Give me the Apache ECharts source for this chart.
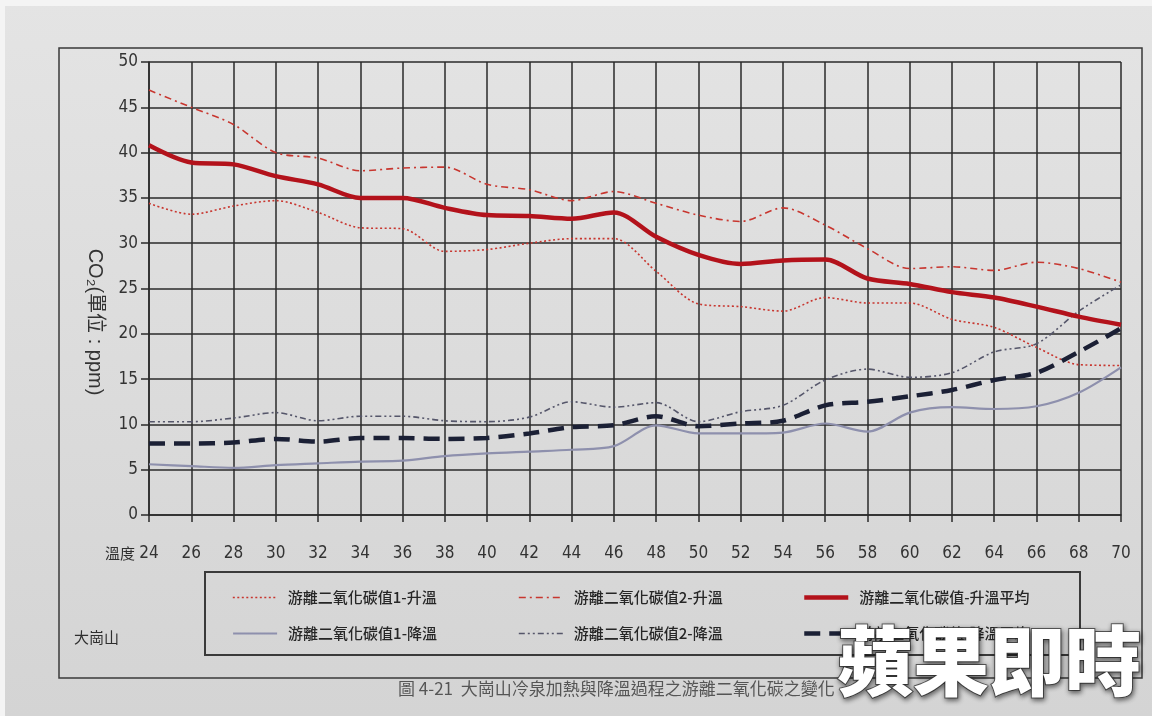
<!DOCTYPE html>
<html>
<head>
<meta charset="utf-8">
<script src="https://cdn.jsdelivr.net/npm/echarts@6/dist/echarts.min.js"></script>
<style>
html,body{margin:0;padding:0;background:#fff;}
#chart{width:1152px;height:716px;}
</style>
</head>
<body>
<div id="chart"></div>
<script>
const temps = [24,26,28,30,32,34,36,38,40,42,44,46,48,50,52,54,56,58,60,62,64,66,68,70];
const up1 = [34.4,33.2,34.1,34.7,33.4,31.7,31.6,29.1,29.3,30.0,30.5,30.5,26.9,23.3,23.0,22.5,24.0,23.4,23.4,21.6,20.7,18.5,16.6,16.5];
const up2 = [46.9,45.0,43.1,40.0,39.4,38.0,38.3,38.4,36.5,35.9,34.7,35.7,34.4,33.1,32.4,33.9,32.0,29.4,27.2,27.4,27.0,27.9,27.2,25.7];
const upAvg = [40.8,38.9,38.7,37.4,36.5,35.0,35.0,33.9,33.1,33.0,32.7,33.4,30.7,28.7,27.7,28.1,28.2,26.1,25.5,24.6,24.0,23.0,21.9,21.0];
const down1 = [5.6,5.4,5.2,5.5,5.7,5.9,6.0,6.5,6.8,7.0,7.2,7.6,9.9,9.0,9.0,9.1,10.1,9.2,11.3,11.9,11.7,12.0,13.5,16.3];
const down2 = [10.3,10.3,10.7,11.3,10.4,10.9,10.9,10.4,10.3,10.8,12.5,11.9,12.4,10.3,11.4,12.1,14.9,16.1,15.2,15.7,18.0,18.9,22.5,25.4];
const downAvg = [7.9,7.9,8.0,8.4,8.1,8.5,8.5,8.4,8.5,9.0,9.7,9.9,10.9,9.8,10.1,10.4,12.1,12.5,13.1,13.8,14.9,15.7,18.0,20.6];
const seriesNames = ['游離二氧化碳值1-升溫','游離二氧化碳值2-升溫','游離二氧化碳值-升溫平均','游離二氧化碳值1-降溫','游離二氧化碳值2-降溫','游離二氧化碳值-降溫平均'];
const yTicks = [0,5,10,15,20,25,30,35,40,45,50];

const pair = arr => temps.map((t,i)=>[t,arr[i]]);
const numFont = "'Liberation Sans Narrow','DejaVu Sans Condensed','Liberation Sans',sans-serif";
const cjkFont = "'Noto Sans CJK TC','Noto Sans CJK SC',sans-serif";

const styles = [
  {color:'#c8362f', width:1.6, type:[2,2.5]},
  {color:'#c8362f', width:1.6, type:[7,4,2,4]},
  {color:'#b3121b', width:4.5, type:'solid'},
  {color:'#8e90ad', width:2.2, type:'solid'},
  {color:'#55566a', width:1.6, type:[6,3,2,3,2,3]},
  {color:'#1b2035', width:4.5, type:[16,9]}
];
const datasets = [up1, up2, upAvg, down1, down2, downAvg];

const series = datasets.map((d,i)=>({
  name: seriesNames[i],
  type:'line',
  data: pair(d),
  smooth: 0.3,
  symbol:'none',
  showSymbol:false,
  z: i===2||i===5 ? 4 : 3,
  lineStyle:{color:styles[i].color, width:styles[i].width, type:styles[i].type},
  itemStyle:{color:styles[i].color}
}));

const legendPos = [
  {left:232, top:590},{left:518, top:590},{left:802, top:590},
  {left:232, top:626},{left:518, top:626},{left:802, top:626}
];
const legends = seriesNames.map((n,i)=>({
  data:[n],
  left:legendPos[i].left, top:legendPos[i].top,
  padding:0, itemWidth:44, itemHeight:14,
  itemStyle:{opacity:0},
  lineStyle:{color:styles[i].color, width:styles[i].width, type:styles[i].type},
  textStyle:{fontFamily:cjkFont, fontSize:15, fontWeight:500, color:'#262626', padding:[0,0,0,6]},
  selectedMode:false
}));

const chart = echarts.init(document.getElementById('chart'), null, {renderer:'canvas'});
chart.setOption({
  backgroundColor: new echarts.graphic.LinearGradient(0,0,0,1,[{offset:0,color:'#e4e4e4'},{offset:1,color:'#d4d4d4'}]),
  animation:false,
  grid:{left:149, right:31, top:62, bottom:201},
  legend: legends,
  xAxis:{
    type:'value', min:24, max:70, interval:2,
    axisLine:{show:true, onZero:false, lineStyle:{color:'#2a2a2a', width:1.5}},
    axisTick:{show:true, length:7, lineStyle:{color:'#2a2a2a', width:1.5}},
    axisLabel:{margin:30, fontFamily:numFont, fontSize:17, color:'#333'},
    splitLine:{show:true, lineStyle:{color:'#2a2a2a', width:1.5}}
  },
  yAxis:{
    type:'value', min:0, max:50, interval:5,
    axisLine:{show:true, lineStyle:{color:'#2a2a2a', width:1.5}},
    axisTick:{show:true, length:8, lineStyle:{color:'#2a2a2a', width:1.5}},
    axisLabel:{margin:11, fontFamily:numFont, fontSize:17, color:'#333'},
    splitLine:{show:true, lineStyle:{color:'#2a2a2a', width:1.5}}
  },
  graphic:[
    {type:'rect', shape:{x:0, y:0, width:1152, height:6}, style:{fill:'#f4f4f4'}, silent:true, z:-2},
    {type:'rect', shape:{x:0, y:0, width:5, height:716}, style:{fill:'#f4f4f4'}, silent:true, z:-2},
    {type:'rect', shape:{x:59, y:48, width:1083, height:630}, style:{fill:'none', stroke:'#3a3a3a', lineWidth:1.5}, silent:true, z:-1},
    {type:'rect', shape:{x:205, y:572, width:875, height:83}, style:{fill:'none', stroke:'#3a3a3a', lineWidth:2}, silent:true},
    {type:'text', x:95, y:322, rotation:-Math.PI/2, style:{text:'CO₂(單位 : ppm)', x:0, y:0, align:'center', verticalAlign:'middle', font:"20px 'Liberation Sans','Noto Sans CJK TC',sans-serif", fill:'#333'}},
    {type:'text', left:105, top:546, style:{text:'溫度', font:"15px 'Noto Sans CJK TC',sans-serif", fill:'#2e2e2e'}},
    {type:'text', left:74, top:630, style:{text:'大崗山', font:"15px 'Noto Sans CJK TC',sans-serif", fill:'#2e2e2e'}},
    {type:'text', left:398, top:680, style:{text:'圖 4-21  大崗山冷泉加熱與降溫過程之游離二氧化碳之變化', font:"17px 'Noto Sans CJK TC',sans-serif", fill:'#555'}},
    {type:'text', left:836, top:622, z:100, style:{text:'蘋果即時', font:"900 76px 'Noto Sans CJK TC',sans-serif", fill:'#ffffff', stroke:'rgba(70,70,70,0.85)', lineWidth:2, textShadowColor:'rgba(0,0,0,0.55)', textShadowBlur:5, textShadowOffsetX:1, textShadowOffsetY:2}}
  ],
  series: series
});
</script>
</body>
</html>
